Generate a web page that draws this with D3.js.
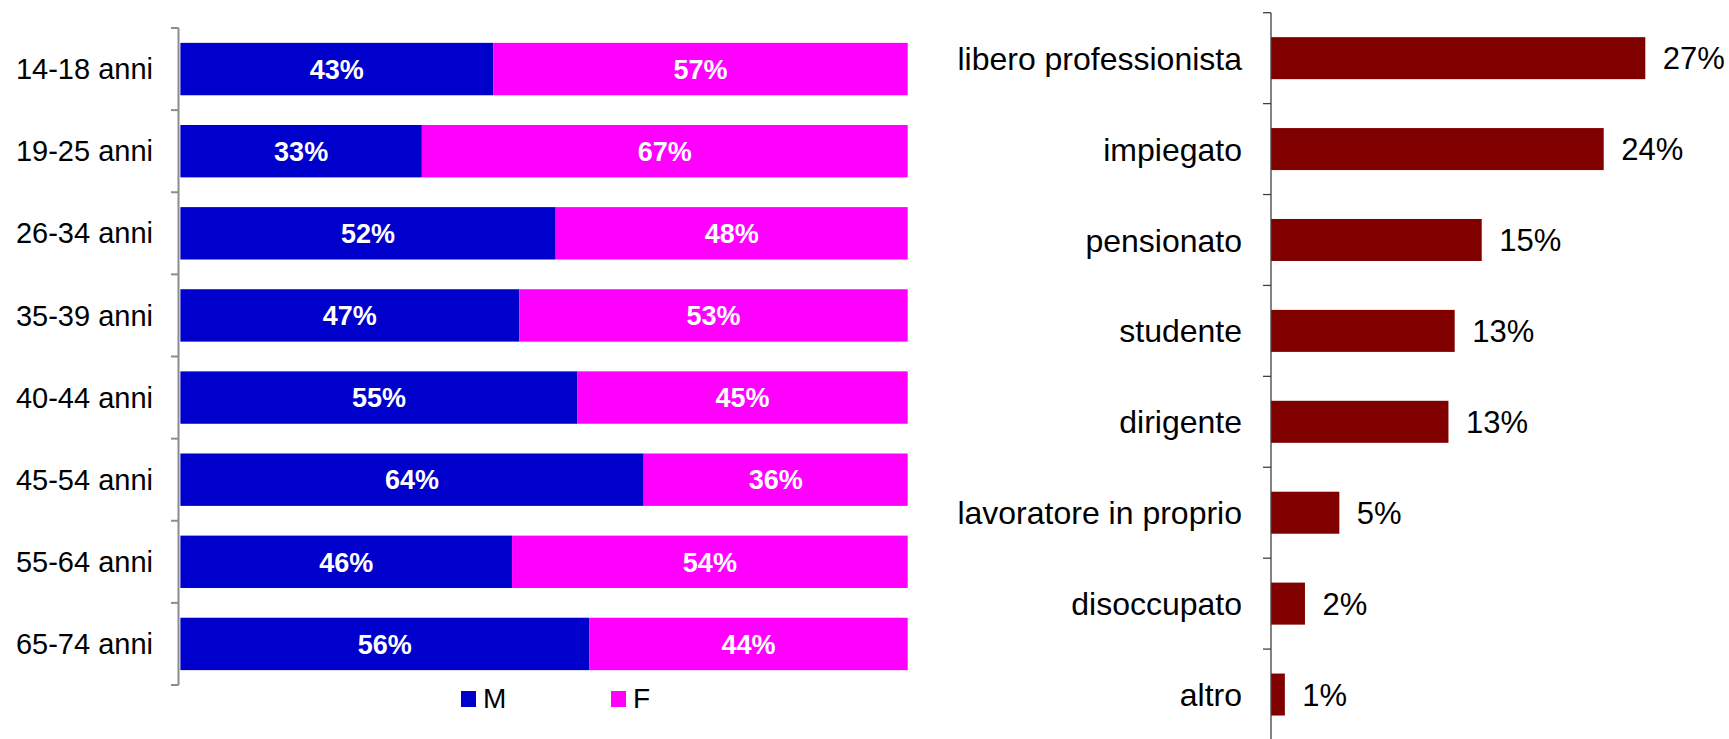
<!DOCTYPE html>
<html>
<head>
<meta charset="utf-8">
<script src="https://cdn.jsdelivr.net/npm/d3@7/dist/d3.min.js"></script>
<style>
    body { margin: 0; background: #fff; }
    svg { display: block; font-family: Arial, "Liberation Sans", sans-serif; }
</style>
</head>
<body>
<div id="chart"></div>
<script>
// left chart: gender split by age class
const ageClasses = ["14-18 anni", "19-25 anni", "26-34 anni", "35-39 anni", "40-44 anni", "45-54 anni", "55-64 anni", "65-74 anni"];
const maleShare = [43.0, 33.2, 51.6, 46.6, 54.6, 63.7, 45.6, 56.2];
const femaleShare = [57.0, 66.8, 48.4, 53.4, 45.4, 36.3, 54.4, 43.8];
const seriesNames = ["M", "F"];

// right chart: occupation
const jobs = ["libero professionista", "impiegato", "pensionato", "studente", "dirigente", "lavoratore in proprio", "disoccupato", "altro"];
const jobShare = [27.0, 24.0, 15.2, 13.25, 12.8, 4.93, 2.45, 1.0];

const W = 1729, H = 739;
const svg = d3.select("#chart").append("svg")
    .attr("width", W)
    .attr("height", H);

svg.append("rect").attr("width", W).attr("height", H).attr("fill", "#fff");

/* ---------- left: stacked 100% bars ---------- */
const leftG = svg.append("g");
const xL = d3.scaleLinear().domain([0, 100]).range([180.4, 907.7]);
const yL = d3.scaleBand().domain(ageClasses).range([28, 685])
    .paddingInner(0.362).paddingOuter(0.181);
const colorL = d3.scaleOrdinal().domain(seriesNames).range(["#0000CC", "#FF00FF"]);

const rowsL = ageClasses.map((a, i) => ({age: a, M: maleShare[i], F: femaleShare[i]}));
const stacked = d3.stack().keys(seriesNames)(rowsL);

const layers = leftG.selectAll(".layer")
    .data(stacked)
    .enter()
    .append("g")
    .attr("class", "layer")
    .attr("fill", d => colorL(d.key));

layers.selectAll("rect")
    .data(d => d)
    .enter()
    .append("rect")
    .attr("x", d => xL(d[0]))
    .attr("y", d => yL(d.data.age))
    .attr("width", d => xL(d[1]) - xL(d[0]))
    .attr("height", yL.bandwidth());

layers.selectAll("text")
    .data(d => d)
    .enter()
    .append("text")
    .attr("x", d => (xL(d[0]) + xL(d[1])) / 2)
    .attr("y", d => yL(d.data.age) + yL.bandwidth() / 2)
    .attr("dy", "0.36em")
    .attr("text-anchor", "middle")
    .attr("fill", "#fff")
    .attr("font-weight", "bold")
    .attr("font-size", "27px")
    .text(d => Math.round(d[1] - d[0]) + "%");

// left axis: line + ticks on band boundaries
const axisL = leftG.append("g").attr("stroke", "#8c8c8c").attr("stroke-width", 2);
const stepL = yL.step();
axisL.append("line")
    .attr("x1", 178.5).attr("x2", 178.5)
    .attr("y1", yL.range()[0]).attr("y2", yL.range()[1]);
axisL.selectAll(".tick")
    .data(d3.range(ageClasses.length + 1))
    .enter()
    .append("line")
    .attr("x1", 171).attr("x2", 178.5)
    .attr("y1", i => yL.range()[0] + i * stepL)
    .attr("y2", i => yL.range()[0] + i * stepL);

leftG.selectAll(".age-label")
    .data(ageClasses)
    .enter()
    .append("text")
    .attr("class", "age-label")
    .attr("x", 153)
    .attr("y", d => yL(d) + yL.bandwidth() / 2)
    .attr("dy", "0.35em")
    .attr("text-anchor", "end")
    .attr("font-size", "29px")
    .attr("fill", "#000")
    .text(d => d);

// legend
const legendX = d3.scaleOrdinal().domain(seriesNames).range([461, 611]);
const legend = leftG.selectAll(".legend")
    .data(seriesNames)
    .enter()
    .append("g")
    .attr("class", "legend")
    .attr("transform", d => `translate(${legendX(d)}, 691)`);
legend.append("rect")
    .attr("width", 15).attr("height", 16)
    .attr("fill", d => colorL(d));
legend.append("text")
    .attr("x", 22).attr("y", 17)
    .attr("font-size", "28px")
    .attr("fill", "#000")
    .text(d => d);

/* ---------- right: horizontal bars ---------- */
const rightG = svg.append("g");
const xR = d3.scaleLinear().domain([0, 27]).range([1271, 1645.3]);
const yR = d3.scaleBand().domain(jobs).range([12.7, 740])
    .paddingInner(0.538).paddingOuter(0.269);

rightG.selectAll(".job-bar")
    .data(jobs)
    .enter()
    .append("rect")
    .attr("class", "job-bar")
    .attr("x", xR(0))
    .attr("y", d => yR(d))
    .attr("width", (d, i) => xR(jobShare[i]) - xR(0))
    .attr("height", yR.bandwidth())
    .attr("fill", "#800000");

rightG.selectAll(".job-value")
    .data(jobs)
    .enter()
    .append("text")
    .attr("class", "job-value")
    .attr("x", (d, i) => xR(jobShare[i]) + 17.5)
    .attr("y", d => yR(d) + yR.bandwidth() / 2)
    .attr("dy", "0.36em")
    .attr("font-size", "31px")
    .attr("fill", "#000")
    .text((d, i) => Math.round(jobShare[i]) + "%");

rightG.selectAll(".job-label")
    .data(jobs)
    .enter()
    .append("text")
    .attr("class", "job-label")
    .attr("x", 1242)
    .attr("y", d => yR(d) + yR.bandwidth() / 2)
    .attr("dy", "0.36em")
    .attr("text-anchor", "end")
    .attr("font-size", "32px")
    .attr("fill", "#000")
    .text(d => d);

const axisR = rightG.append("g").attr("stroke", "#404040").attr("stroke-width", 1.3);
const stepR = yR.step();
axisR.append("line")
    .attr("x1", 1271).attr("x2", 1271)
    .attr("y1", yR.range()[0]).attr("y2", yR.range()[1]);
axisR.selectAll(".tick")
    .data(d3.range(jobs.length))
    .enter()
    .append("line")
    .attr("x1", 1263).attr("x2", 1271)
    .attr("y1", i => yR.range()[0] + i * stepR)
    .attr("y2", i => yR.range()[0] + i * stepR);
</script>
</body>
</html>
